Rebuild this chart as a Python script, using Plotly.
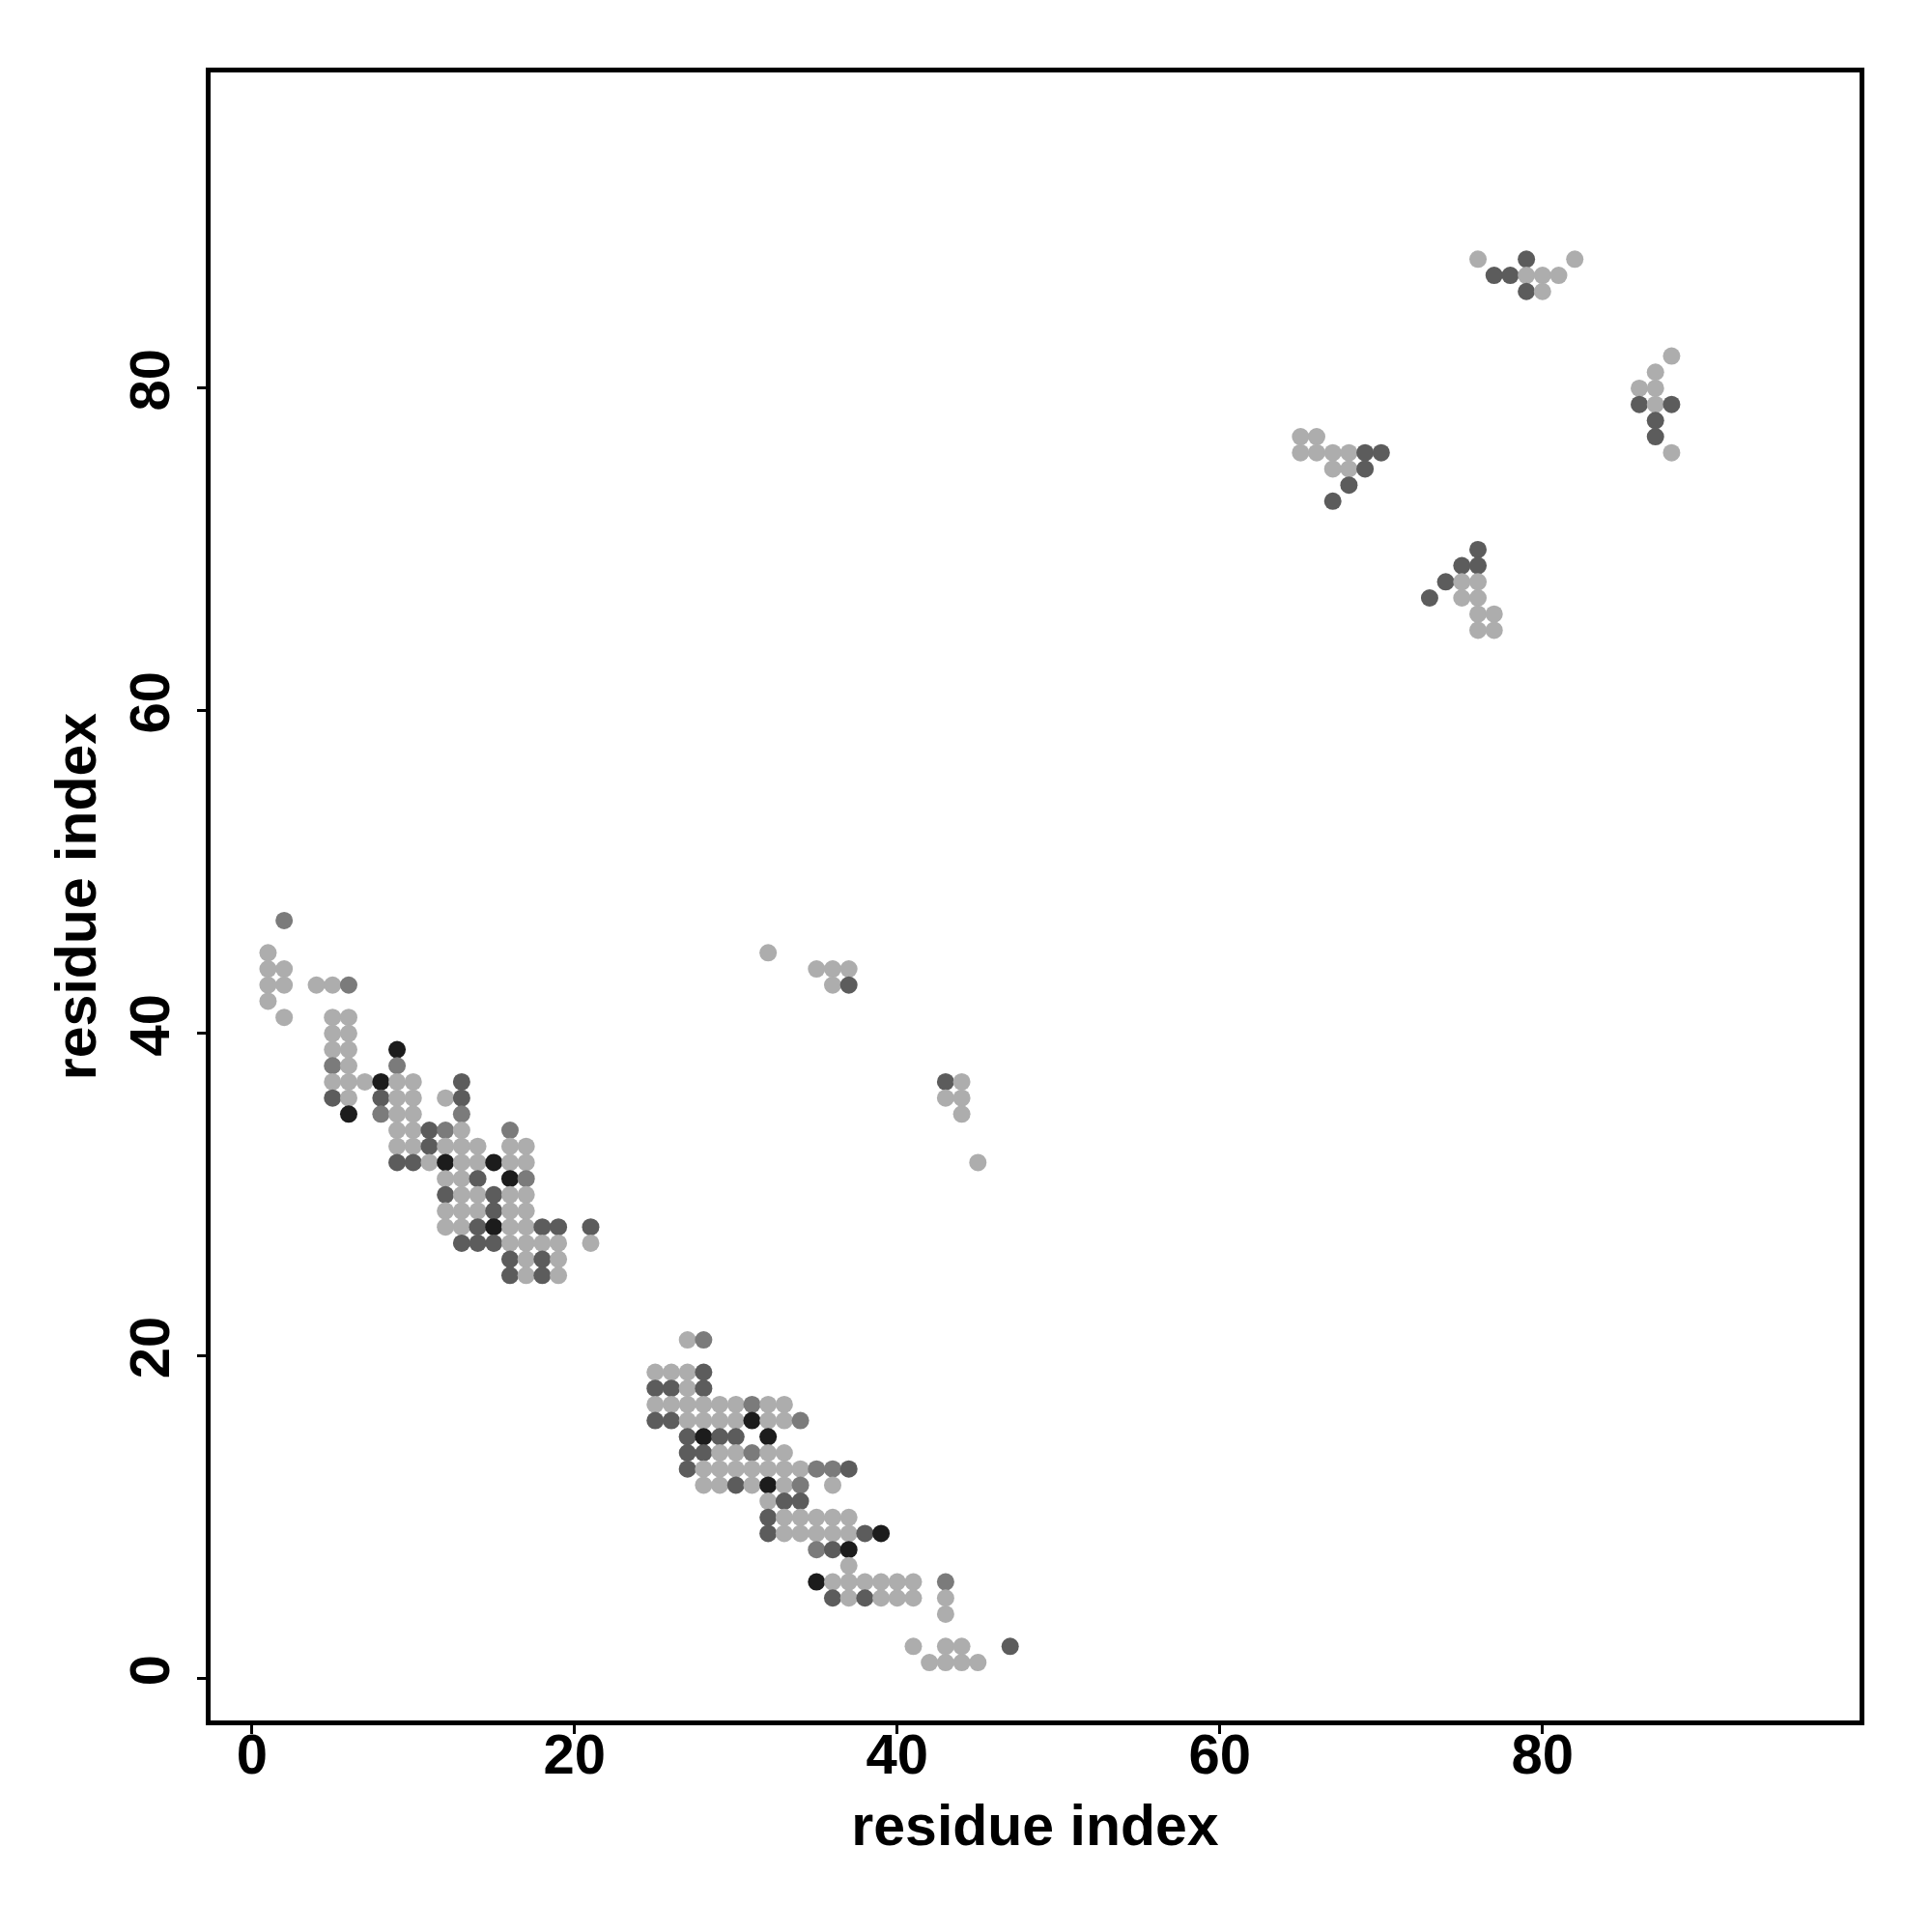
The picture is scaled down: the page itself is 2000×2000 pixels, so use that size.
import plotly.graph_objects as go

# contact map points: residue i (x), residue j (y), shade class
# L = light, M = medium, D = dark, B = black
x_idx = [
    2, 1, 1, 2, 1, 2, 4, 5, 6, 1, 2, 5, 6, 5, 6, 5, 6, 9, 5, 6, 9,
    5, 6, 7, 8, 9, 10, 13, 5, 6, 8, 9, 10, 12, 13, 6, 8, 9, 10, 13,
    9, 10, 11, 12, 13, 16, 9, 10, 11, 12, 13, 14, 16, 17,
    9, 10, 11, 12, 13, 14, 15, 16, 17, 12, 13, 14, 16, 17,
    12, 13, 14, 15, 16, 17, 12, 13, 14, 15, 16, 17,
    12, 13, 14, 15, 16, 17, 18, 19, 21, 13, 14, 15, 16, 17, 18, 19, 21,
    16, 17, 18, 19, 16, 17, 18, 19,
    27, 28, 25, 26, 27, 28, 25, 26, 27, 28,
    25, 26, 27, 28, 29, 30, 31, 32, 33,
    25, 26, 27, 28, 29, 30, 31, 32, 33, 34,
    27, 28, 29, 30, 32, 27, 28, 29, 30, 31, 32, 33,
    27, 28, 29, 30, 31, 32, 33, 34, 35, 36, 37,
    28, 29, 30, 31, 32, 33, 34, 36, 32, 33, 34,
    32, 33, 34, 35, 36, 37, 32, 33, 34, 35, 36, 37, 38, 39,
    35, 36, 37, 37, 35, 36, 37, 38, 39, 40, 41, 43,
    36, 37, 38, 39, 40, 41, 43, 43, 41, 43, 44, 47, 42, 43, 44, 45,
    32, 35, 36, 37, 36, 37, 43, 44, 43, 44, 44, 45,
    76, 79, 82, 77, 78, 79, 80, 81, 79, 80,
    88, 87, 86, 87, 86, 87, 88, 87, 87, 88,
    65, 66, 65, 66, 67, 68, 69, 70, 67, 68, 69, 68, 67,
    76, 75, 76, 74, 75, 76, 73, 75, 76, 76, 77, 76, 77,
]
y_idx = [
    47, 45, 44, 44, 43, 43, 43, 43, 43, 42, 41, 41, 41, 40, 40, 39, 39, 39, 38, 38, 38,
    37, 37, 37, 37, 37, 37, 37, 36, 36, 36, 36, 36, 36, 36, 35, 35, 35, 35, 35,
    34, 34, 34, 34, 34, 34, 33, 33, 33, 33, 33, 33, 33, 33,
    32, 32, 32, 32, 32, 32, 32, 32, 32, 31, 31, 31, 31, 31,
    30, 30, 30, 30, 30, 30, 29, 29, 29, 29, 29, 29,
    28, 28, 28, 28, 28, 28, 28, 28, 28, 27, 27, 27, 27, 27, 27, 27, 27,
    26, 26, 26, 26, 25, 25, 25, 25,
    21, 21, 19, 19, 19, 19, 18, 18, 18, 18,
    17, 17, 17, 17, 17, 17, 17, 17, 17,
    16, 16, 16, 16, 16, 16, 16, 16, 16, 16,
    15, 15, 15, 15, 15, 14, 14, 14, 14, 14, 14, 14,
    13, 13, 13, 13, 13, 13, 13, 13, 13, 13, 13,
    12, 12, 12, 12, 12, 12, 12, 12, 11, 11, 11,
    10, 10, 10, 10, 10, 10, 9, 9, 9, 9, 9, 9, 9, 9,
    8, 8, 8, 7, 6, 6, 6, 6, 6, 6, 6, 6,
    5, 5, 5, 5, 5, 5, 5, 4, 2, 2, 2, 2, 1, 1, 1, 1,
    45, 44, 44, 44, 43, 43, 37, 37, 36, 36, 35, 32,
    88, 88, 88, 87, 87, 87, 87, 87, 86, 86,
    82, 81, 80, 80, 79, 79, 79, 78, 77, 76,
    77, 77, 76, 76, 76, 76, 76, 76, 75, 75, 75, 74, 73,
    70, 69, 69, 68, 68, 68, 67, 67, 67, 66, 66, 65, 65,
]
shade = [
    "M", "L", "L", "L", "L", "L", "L", "L", "M", "L", "L", "L", "L", "L", "L", "L", "L", "B", "M", "L", "M",
    "L", "L", "L", "B", "L", "L", "D", "D", "L", "D", "L", "L", "L", "D", "B", "M", "L", "L", "M",
    "L", "L", "D", "M", "L", "M", "L", "L", "D", "L", "L", "L", "L", "L",
    "D", "D", "L", "B", "L", "L", "B", "L", "L", "L", "L", "D", "B", "M",
    "D", "L", "L", "D", "L", "L", "L", "L", "L", "D", "L", "L",
    "L", "L", "D", "B", "L", "L", "D", "D", "D", "D", "D", "D", "L", "L", "L", "L", "L",
    "D", "L", "D", "L", "D", "L", "D", "L",
    "L", "M", "L", "L", "L", "D", "D", "D", "L", "D",
    "L", "L", "L", "L", "L", "L", "M", "L", "L",
    "D", "D", "L", "L", "L", "L", "B", "L", "L", "M",
    "D", "B", "D", "D", "B", "D", "D", "L", "L", "M", "L", "L",
    "D", "L", "L", "L", "L", "L", "L", "L", "M", "M", "D",
    "L", "L", "D", "L", "B", "L", "M", "L", "L", "D", "D",
    "D", "L", "L", "L", "L", "L", "D", "L", "L", "L", "L", "L", "D", "B",
    "M", "D", "B", "L", "B", "L", "L", "L", "L", "L", "L", "M",
    "D", "L", "D", "L", "L", "L", "L", "L", "L", "L", "L", "D", "L", "L", "L", "L",
    "L", "L", "L", "L", "L", "D", "D", "L", "L", "L", "L", "L",
    "L", "D", "L", "D", "D", "L", "L", "L", "D", "L",
    "L", "L", "L", "L", "D", "L", "D", "D", "D", "L",
    "L", "L", "L", "L", "L", "L", "D", "D", "L", "L", "D", "D", "D",
    "D", "D", "D", "D", "L", "L", "D", "L", "L", "L", "L", "L", "L",
]
shade_colors = {"L": "#adadad", "M": "#7b7b7b", "D": "#5c5c5c", "B": "#1c1c1c"}
tick_vals = [0, 20, 40, 60, 80]
axis_title = "residue index"

colors = [shade_colors[s] for s in shade]

fig = go.Figure()
fig.add_trace(go.Scatter(
    x=x_idx, y=y_idx, mode="markers",
    marker=dict(size=18, color=colors, line=dict(width=0)),
    showlegend=False, hoverinfo="x+y",
))

family = "Liberation Sans, Arial, Helvetica, sans-serif"
tick_font = dict(family=family, size=58, color="black", weight="bold")
title_font = dict(family=family, size=59, color="black")

fig.update_layout(
    width=2000, height=2000,
    paper_bgcolor="white", plot_bgcolor="white",
    margin=dict(l=210, r=83, t=67, b=227),
    font=dict(family=family, size=58, color="black"),
)
fig.update_xaxes(
    range=[-2.56, 99.65], tickvals=tick_vals, ticks="outside", ticklen=9, tickwidth=3,
    tickcolor="black", showline=True, linewidth=5, linecolor="black", mirror=True,
    showgrid=False, zeroline=False, tickfont=tick_font, ticklabelstandoff=-29,
    title=dict(text="<b>" + axis_title + "</b>", font=title_font, standoff=24),
)
fig.update_yaxes(
    range=[-2.59, 99.58], tickvals=tick_vals, ticks="outside", ticklen=9, tickwidth=3,
    tickcolor="black", showline=True, linewidth=5, linecolor="black", mirror=True,
    showgrid=False, zeroline=False, tickangle=-90, tickfont=tick_font, ticklabelstandoff=6,
    title=dict(text="<b>" + axis_title + "</b>", font=title_font, standoff=5),
)

fig.write_html("out.html")
